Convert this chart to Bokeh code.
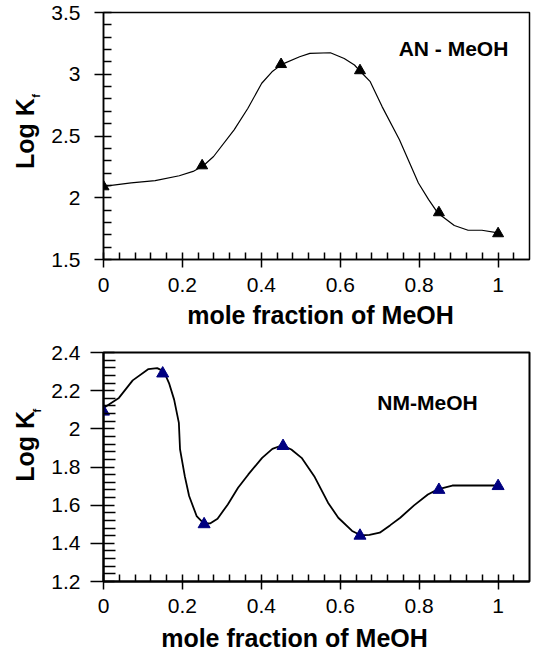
from bokeh.plotting import figure
from bokeh.layouts import column, row
from bokeh.models import FixedTicker, Range1d, Label
from bokeh.core.properties import value
from bokeh.embed import file_html
from bokeh.resources import INLINE
import math

# ---------------- data ----------------
x_ticks = [0, 0.2, 0.4, 0.6, 0.8, 1]
x_tick_labels = ["0", "0.2", "0.4", "0.6", "0.8", "1"]
x_minor = [0.04, 0.08, 0.12, 0.16, 0.24, 0.28, 0.32, 0.36, 0.44, 0.48, 0.52, 0.56,
           0.64, 0.68, 0.72, 0.76, 0.84, 0.88, 0.92, 0.96, 1.04]
x_title = "mole fraction of MeOH"
y_title = "Log K"
y_sub = "f"

# Panel 1: AN - MeOH
an_name = "AN - MeOH"
an_y_ticks = [1.5, 2, 2.5, 3, 3.5]
an_y_tick_labels = ["1.5", "2", "2.5", "3", "3.5"]
an_y_minor = [1.6, 1.7, 1.8, 1.9, 2.1, 2.2, 2.3, 2.4, 2.6, 2.7, 2.8, 2.9, 3.1, 3.2, 3.3, 3.4]
an_pts_x = [0, 0.25, 0.45, 0.65, 0.85, 1.0]
an_pts_y = [2.09, 2.26, 3.08, 3.03, 1.88, 1.71]
an_curve_x = [0, 0.07, 0.131, 0.192, 0.227, 0.253, 0.279, 0.331, 0.366, 0.401, 0.427,
              0.452, 0.497, 0.523, 0.575, 0.61, 0.636, 0.65, 0.676, 0.706, 0.75, 0.798,
              0.824, 0.847, 0.889, 0.924, 0.959, 1.0]
an_curve_y = [2.092, 2.12, 2.138, 2.178, 2.213, 2.259, 2.334, 2.55, 2.725, 2.927, 3.02,
              3.08, 3.142, 3.169, 3.174, 3.128, 3.075, 3.026, 2.94, 2.738, 2.469, 2.119,
              1.985, 1.877, 1.775, 1.737, 1.737, 1.715]

# Panel 2: NM - MeOH
nm_name = "NM-MeOH"
nm_y_ticks = [1.2, 1.4, 1.6, 1.8, 2, 2.2, 2.4]
nm_y_tick_labels = ["1.2", "1.4", "1.6", "1.8", "2", "2.2", "2.4"]
nm_y_minor = [1.24, 1.28, 1.32, 1.36, 1.44, 1.48, 1.52, 1.56, 1.64, 1.68, 1.72, 1.76,
              1.84, 1.88, 1.92, 1.96, 2.04, 2.08, 2.12, 2.16, 2.24, 2.28, 2.32, 2.36]
nm_pts_x = [0, 0.15, 0.255, 0.455, 0.65, 0.85, 1.0]
nm_pts_y = [2.09, 2.29, 1.50, 1.91, 1.44, 1.68, 1.70]
nm_curve_x = [0, 0.039, 0.074, 0.114, 0.136, 0.153, 0.166, 0.179, 0.191, 0.194, 0.206,
              0.217, 0.236, 0.254, 0.271, 0.289, 0.315, 0.341, 0.367, 0.402, 0.428,
              0.453, 0.476, 0.502, 0.534, 0.569, 0.595, 0.63, 0.652, 0.674, 0.7, 0.726,
              0.752, 0.787, 0.822, 0.847, 0.884, 1.0]
nm_curve_y = [2.109, 2.162, 2.254, 2.313, 2.318, 2.301, 2.24, 2.153, 2.031, 1.892, 1.752,
              1.648, 1.543, 1.505, 1.505, 1.529, 1.604, 1.691, 1.761, 1.848, 1.895,
              1.914, 1.892, 1.848, 1.752, 1.613, 1.534, 1.465, 1.442, 1.444, 1.456, 1.494,
              1.534, 1.599, 1.656, 1.683, 1.703, 1.703]

FONT = "Liberation Sans"
W = 531
LW = 45          # width of the y-title strip


def blank(width, height):
    f = figure(width=width, height=height, output_backend="svg", toolbar_location=None,
               x_range=Range1d(0, width), y_range=Range1d(height, 0),
               min_border=0, x_axis_location=None, y_axis_location=None)
    f.grid.visible = False
    f.outline_line_color = None
    f.background_fill_color = "white"
    f.border_fill_color = "white"
    return f


def ytitle(height, cy, sub_y, sub_x):
    f = blank(LW, height)
    f.text(x=[24], y=[cy], text=[y_title], angle=math.pi / 2, text_align="center",
           text_baseline="middle", text_font=value(FONT), text_font_style="bold",
           text_font_size="25px", text_color="black")
    f.text(x=[sub_x], y=[sub_y], text=[y_sub], angle=math.pi / 2, text_align="left",
           text_baseline="middle", text_font=value(FONT), text_font_style="bold",
           text_font_size="11px", text_color="black")
    return f


def xtitle(height, cx, cy):
    f = blank(W, height)
    f.text(x=[cx], y=[cy], text=[x_title], text_align="center",
           text_baseline="middle", text_font=value(FONT), text_font_style="bold",
           text_font_size="25px", text_color="black")
    return f


def make_panel(height, bt, bb, xend, yr, yticks, ylabels, yminor,
               axis_w, ymaj_in, ymaj_out, ymin_in, ystand, xstand):
    p = figure(width=W - LW, height=height, output_backend="svg", toolbar_location=None,
               x_range=Range1d(0, xend), y_range=Range1d(*yr),
               min_border_left=103 - LW, min_border_right=2, min_border_top=bt,
               min_border_bottom=bb)
    p.grid.visible = False
    p.outline_line_color = "black"
    p.outline_line_width = axis_w
    p.background_fill_color = "white"
    p.border_fill_color = "white"

    xa = p.xaxis[0]
    xa.ticker = FixedTicker(ticks=x_ticks, minor_ticks=x_minor)
    xa.major_label_overrides = {t: l for t, l in zip(x_ticks, x_tick_labels)}
    ya = p.yaxis[0]
    ya.ticker = FixedTicker(ticks=yticks, minor_ticks=yminor)
    ya.major_label_overrides = {t: l for t, l in zip(yticks, ylabels)}
    for ax in (xa, ya):
        ax.axis_line_width = axis_w
        ax.axis_line_color = "black"
        ax.major_tick_line_color = "black"
        ax.minor_tick_line_color = "black"
        ax.major_tick_line_width = 1.5
        ax.minor_tick_line_width = 1.5
        ax.minor_tick_out = 0
        ax.major_label_text_font = FONT
        ax.major_label_text_font_size = "21px"
        ax.major_label_text_color = "black"
    xa.major_tick_in = 7
    xa.major_tick_out = 8
    xa.minor_tick_in = 7
    xa.major_label_standoff = xstand
    ya.major_tick_in = ymaj_in
    ya.major_tick_out = ymaj_out
    ya.minor_tick_in = ymin_in
    ya.major_label_standoff = ystand
    ya.major_label_orientation = "horizontal"
    return p


XEND = 426 / 394.6

# Panel 1: row 301 px, x-title strip 38 px
p1 = make_panel(301, 12, 42, XEND, (1.5, 3.5), an_y_ticks, an_y_tick_labels, an_y_minor,
                1.5, 8, 9, 8, 14, 10)
p1.line(an_curve_x, an_curve_y, line_color="black", line_width=1.2)
p1.scatter(an_pts_x, an_pts_y, marker="triangle", size=11, fill_color="black",
           line_color="black")
p1.add_layout(Label(x=0.748, y=3.205, text=an_name, text_font=FONT,
                    text_baseline="middle", text_font_style="bold",
                    text_font_size="21px", text_color="black"))
yl1 = ytitle(301, 147.5, 104, 35)
xl1 = xtitle(38, 320, 13.5)

# Panel 2: row 283 px, x-title strip 29 px
p2 = make_panel(283, 13, 41, XEND, (1.2, 2.4), nm_y_tick_labels and nm_y_ticks,
                nm_y_tick_labels, nm_y_minor, 2, 11, 13, 12, 10, 9)
p2.line(nm_curve_x, nm_curve_y, line_color="black", line_width=1.8)
p2.scatter(nm_pts_x, nm_pts_y, marker="triangle", size=12, fill_color="#000080",
           line_color="#000080")
p2.add_layout(Label(x=0.694, y=2.14, text=nm_name, text_font=FONT,
                    text_baseline="middle", text_font_style="bold",
                    text_font_size="21px", text_color="black"))
yl2 = ytitle(283, 116, 74, 36)
xl2 = xtitle(29, 294, 15.5)

layout = column(row(yl1, p1, spacing=0), xl1, row(yl2, p2, spacing=0), xl2, spacing=0)
open("out.html", "w").write(file_html(layout, INLINE))
